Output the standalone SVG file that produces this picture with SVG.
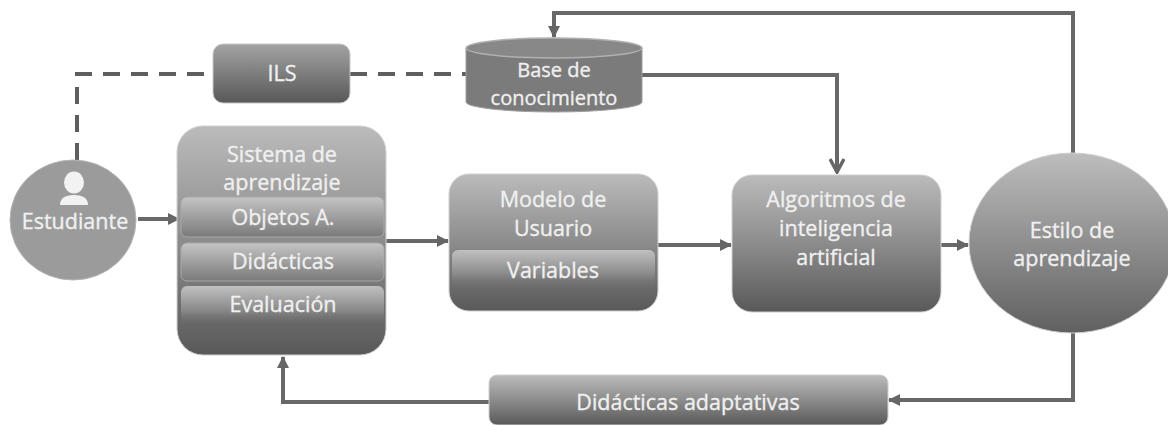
<svg xmlns="http://www.w3.org/2000/svg" width="1168" height="425" viewBox="0 0 1168 425">
<defs>
<linearGradient id="gBox" x1="0" y1="0" x2="0" y2="1">
<stop offset="0" stop-color="#bbbbbb"/>
<stop offset="0.5" stop-color="#8c8c8c"/>
<stop offset="1" stop-color="#595959"/>
</linearGradient>
<linearGradient id="gBar" x1="0" y1="0" x2="0" y2="1">
<stop offset="0" stop-color="#c4c4c4"/>
<stop offset="1" stop-color="#7a7a7a"/>
</linearGradient>
<linearGradient id="gBarFade" x1="0" y1="0" x2="0" y2="1">
<stop offset="0" stop-color="#c0c0c0"/>
<stop offset="0.6" stop-color="#8a8a8a"/>
<stop offset="1" stop-color="#6a6a6a" stop-opacity="0"/>
</linearGradient>
<linearGradient id="gIls" x1="0" y1="0" x2="0" y2="1">
<stop offset="0" stop-color="#a3a3a3"/>
<stop offset="1" stop-color="#585858"/>
</linearGradient>
<linearGradient id="gCirc" x1="0" y1="0" x2="0" y2="1">
<stop offset="0" stop-color="#bdbdbd"/>
<stop offset="1" stop-color="#606060"/>
</linearGradient>
<marker id="arr" viewBox="0 0 12 12" refX="11" refY="6" markerWidth="12" markerHeight="12" markerUnits="userSpaceOnUse" orient="auto">
<path d="M0,0 L12,6 L0,12 z" fill="#666666"/>
</marker>
<marker id="chev" viewBox="0 0 16 16" refX="14" refY="8" markerWidth="16" markerHeight="16" markerUnits="userSpaceOnUse" orient="auto">
<path d="M1,1 L14,8 L1,15" fill="none" stroke="#666666" stroke-width="3.5"/>
</marker>
</defs>
<style>
.t{font-family:"Open Sans","Liberation Sans",sans-serif;font-size:21.5px;fill:#f0f0f0;stroke:#f0f0f0;stroke-width:0.35px;text-anchor:middle}
.s{font-size:20px}
.c{fill:none;stroke:#686868;stroke-width:4}
.d{fill:none;stroke:#5e5e5e;stroke-width:4;stroke-dasharray:17 11}
.box{fill:url(#gBox);stroke:#d0d0d0;stroke-width:1}
.bar{fill:url(#gBar);stroke:#a8a8a8;stroke-width:1}
</style>
<rect width="1168" height="425" fill="#ffffff"/>

<g id="connectors">
<path class="d" d="M77,160 L77,74 L213,74"/>
<path class="d" d="M350,74 L466,74"/>
<path class="c" d="M138,219 L179,219" marker-end="url(#arr)"/>
<path class="c" d="M386,241 L448,241" marker-end="url(#arr)"/>
<path class="c" d="M658,245 L731,245" marker-end="url(#arr)"/>
<path class="c" d="M941,245 L968,245" marker-end="url(#arr)"/>
<path class="c" d="M642,75 L837,75 L837,172" marker-end="url(#chev)"/>
<path class="c" d="M1073,153 L1073,13 L554,13 L554,37" marker-end="url(#arr)"/>
<path class="c" d="M1073,333 L1073,400 L889,400" marker-end="url(#arr)"/>
<path class="c" d="M489,402 L283,402 L283,357" marker-end="url(#arr)"/>
</g>

<g id="estudiante">
<ellipse cx="73" cy="220" rx="63" ry="60" fill="#9b9b9b" stroke="#b5b5b5" stroke-width="1"/>
<ellipse cx="74" cy="182.5" rx="10" ry="11" fill="#f2f2f2"/>
<path d="M60,205 Q60,195 74,195 Q88,195 88,205 Z" fill="#f2f2f2"/>
<text class="t" x="75" y="229">Estudiante</text>
</g>

<g id="ils">
<rect x="213" y="44" width="137" height="59" rx="10" fill="url(#gIls)" stroke="#c8c8c8" stroke-width="1"/>
<text class="t" x="282" y="81">ILS</text>
</g>

<g id="base">
<path d="M466,48 L466,102 A88,10 0 0 0 642,102 L642,48" fill="#7b7b7b" stroke="#a0a0a0" stroke-width="1"/>
<ellipse cx="554" cy="48" rx="88" ry="10" fill="#888888" stroke="#b0b0b0" stroke-width="1.5"/>
<text class="t s" x="554" y="77">Base de</text>
<text class="t s" x="554" y="105">conocimiento</text>
</g>

<g id="sistema">
<rect class="box" x="177" y="126" width="209" height="229" rx="26"/>
<text class="t" x="282" y="162">Sistema de</text>
<text class="t" x="282" y="190">aprendizaje</text>
<rect class="bar" x="181" y="197" width="203" height="40" rx="6"/>
<text class="t" x="283" y="225">Objetos A.</text>
<rect class="bar" x="181" y="243" width="203" height="38" rx="6"/>
<text class="t" x="283" y="269">Didácticas</text>
<rect x="181" y="286" width="203" height="40" rx="6" fill="url(#gBarFade)"/>
<text class="t" x="283" y="312">Evaluación</text>
</g>

<g id="modelo">
<rect class="box" x="449" y="174" width="209" height="137" rx="20"/>
<text class="t" x="553" y="207">Modelo de</text>
<text class="t" x="553" y="236">Usuario</text>
<rect x="452" y="250" width="203" height="40" rx="6" fill="url(#gBarFade)"/>
<text class="t" x="553" y="278">Variables</text>
</g>

<g id="algoritmos">
<rect class="box" x="732" y="175" width="209" height="137" rx="20"/>
<text class="t" x="836" y="207">Algoritmos de</text>
<text class="t" x="836" y="236">inteligencia</text>
<text class="t" x="836" y="265">artificial</text>
</g>

<g id="estilo">
<ellipse cx="1072" cy="243" rx="103" ry="90" fill="url(#gCirc)" stroke="#cfcfcf" stroke-width="1"/>
<text class="t" x="1072" y="238">Estilo de</text>
<text class="t" x="1072" y="266">aprendizaje</text>
</g>

<g id="didacticas">
<rect x="489" y="375" width="399" height="50" rx="8" fill="url(#gBox)" stroke="#d0d0d0" stroke-width="1"/>
<text class="t" x="688" y="410">Didácticas adaptativas</text>
</g>
</svg>
